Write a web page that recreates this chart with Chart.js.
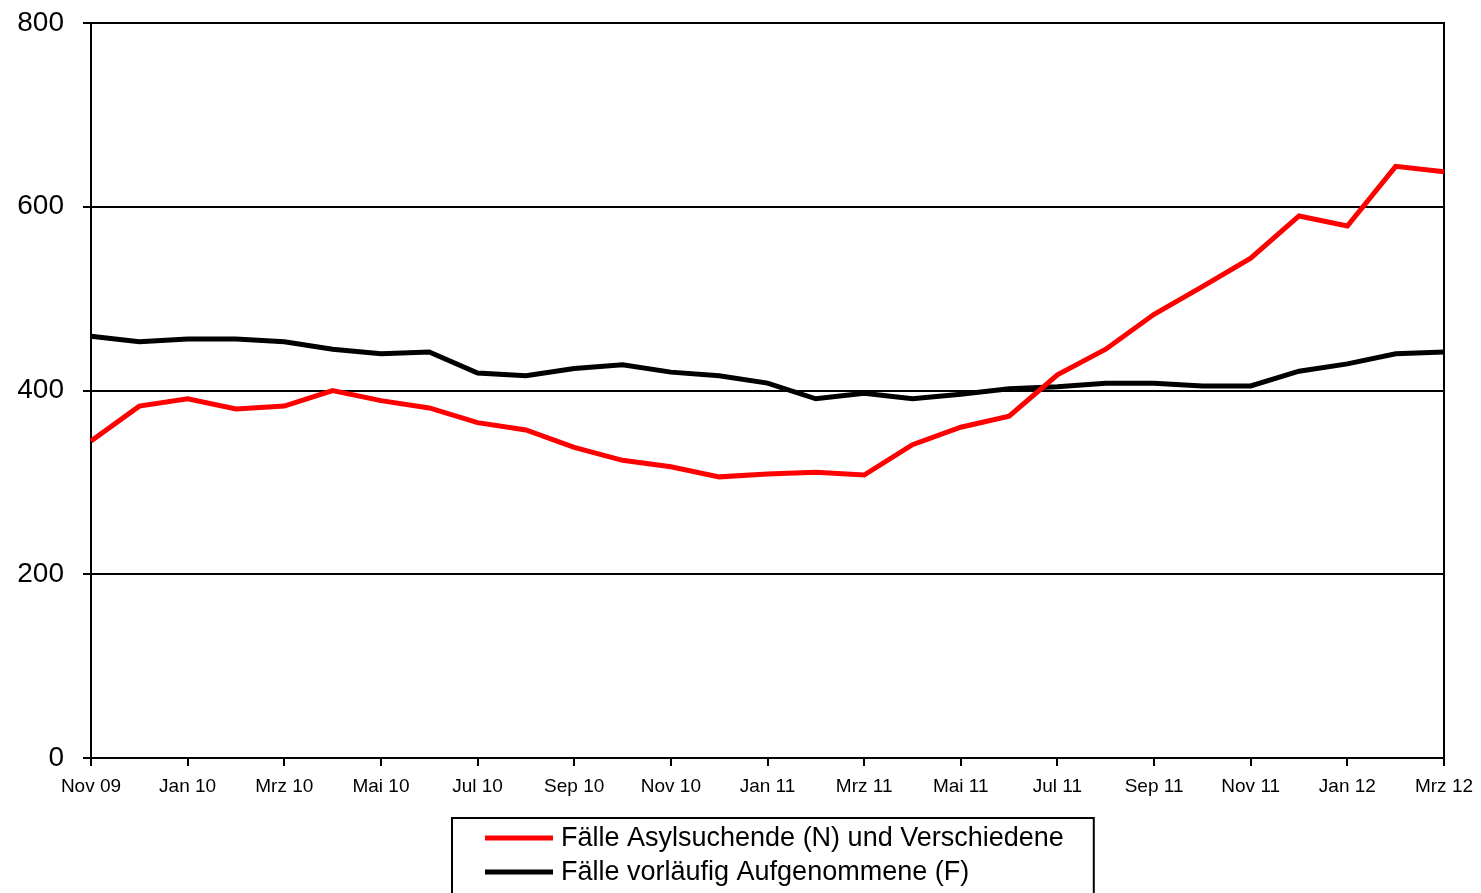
<!DOCTYPE html>
<html>
<head>
<meta charset="utf-8">
<script src="https://cdn.jsdelivr.net/npm/chart.js@4/dist/chart.umd.min.js"></script>
<style>
html, body { margin: 0; padding: 0; background: #fff; }
</style>
</head>
<body>
<canvas id="chart" width="1481" height="893"></canvas>
<script>
const months = [
  "Nov 09", "Dez 09", "Jan 10", "Feb 10", "Mrz 10", "Apr 10", "Mai 10", "Jun 10",
  "Jul 10", "Aug 10", "Sep 10", "Okt 10", "Nov 10", "Dez 10", "Jan 11", "Feb 11",
  "Mrz 11", "Apr 11", "Mai 11", "Jun 11", "Jul 11", "Aug 11", "Sep 11", "Okt 11",
  "Nov 11", "Dez 11", "Jan 12", "Feb 12", "Mrz 12"
];
const asylsuchende = [
  345, 383, 391, 380, 383, 400, 389, 381, 365, 357, 338, 324, 317, 306, 309,
  311, 308, 341, 360, 372, 417, 445, 483, 513, 544, 590, 579, 644, 638
];
const aufgenommene = [
  459, 453, 456, 456, 453, 445, 440, 442, 419, 416, 424, 428, 420, 416, 408,
  391, 397, 391, 396, 402, 404, 408, 408, 405, 405, 421, 429, 440, 442
];
const yTicks = [0, 200, 400, 600, 800];

const FONT = '"Liberation Sans", Arial, sans-serif';

// frame round the plot area (right edge is not drawn by the axes)
const frame = {
  id: 'frame',
  beforeDatasetsDraw(chart) {
    const { ctx, chartArea: a } = chart;
    ctx.save();
    ctx.strokeStyle = '#000';
    ctx.lineWidth = 2;
    ctx.strokeRect(a.left, a.top, a.right - a.left, a.bottom - a.top);
    ctx.restore();
  }
};

// boxed legend below the axis
const boxLegend = {
  id: 'boxLegend',
  afterDraw(chart) {
    const { ctx, chartArea: a } = chart;
    const sets = chart.data.datasets;
    ctx.save();
    ctx.font = '27px ' + FONT;
    const textW = Math.max(...sets.map(d => ctx.measureText(d.label).width));
    const padL = 33, sample = 68, gap = 8, padR = 30;
    const w = padL + sample + gap + textW + padR;
    const x0 = Math.round((a.left + a.right) / 2 + 5 - w / 2);
    const y0 = a.bottom + 60;
    ctx.strokeStyle = '#000';
    ctx.lineWidth = 2;
    ctx.strokeRect(x0, y0, w, 120);
    ctx.textBaseline = 'middle';
    ctx.fillStyle = '#000';
    sets.forEach((d, i) => {
      const cy = y0 + 20 + i * 34;
      ctx.strokeStyle = d.borderColor;
      ctx.lineWidth = 5;
      ctx.beginPath();
      ctx.moveTo(x0 + padL, cy);
      ctx.lineTo(x0 + padL + sample, cy);
      ctx.stroke();
      ctx.fillText(d.label, x0 + padL + sample + gap, cy + 1);
    });
    ctx.restore();
  }
};

const ctxt = document.getElementById('chart').getContext('2d');

const myChart = new Chart(ctxt, {
  type: 'line',
  data: {
    labels: months,
    datasets: [
      {
        label: 'Fälle Asylsuchende (N) und Verschiedene',
        data: asylsuchende,
        borderColor: '#ff0000',
        borderWidth: 5,
        pointRadius: 0,
        tension: 0,
        fill: false
      },
      {
        label: 'Fälle vorläufig Aufgenommene (F)',
        data: aufgenommene,
        borderColor: '#000000',
        borderWidth: 5,
        pointRadius: 0,
        tension: 0,
        fill: false
      }
    ]
  },
  options: {
    responsive: false,
    animation: false,
    layout: { padding: { top: 23, right: 37, left: 0, bottom: 0 } },
    plugins: {
      legend: { display: false },
      tooltip: { enabled: false }
    },
    scales: {
      x: {
        offset: false,
        afterFit: (scale) => {
          scale.height = 135;
          scale.paddingLeft = 0;
          scale.paddingRight = 0;
        },
        grid: {
          drawOnChartArea: false,
          tickLength: 8,
          lineWidth: 2,
          color: (c) => (c.index % 2 === 0 ? '#000' : 'rgba(0,0,0,0)')
        },
        border: { color: '#000', width: 2 },
        ticks: {
          autoSkip: false,
          maxRotation: 0,
          padding: 9,
          color: '#000',
          font: { family: FONT, size: 19 },
          callback: function (v, i) { return i % 2 === 0 ? this.getLabelForValue(v) : ''; }
        }
      },
      y: {
        min: 0,
        max: 800,
        afterFit: (scale) => {
          scale.width = 91;
          scale.paddingTop = 0;
          scale.paddingBottom = 0;
        },
        afterBuildTicks: (scale) => { scale.ticks = yTicks.map(v => ({ value: v })); },
        grid: { color: '#000', lineWidth: 2, tickLength: 8 },
        border: { color: '#000', width: 2 },
        ticks: {
          padding: 19,
          color: '#000',
          font: { family: FONT, size: 28 }
        }
      }
    }
  },
  plugins: [frame, boxLegend]
});
</script>
</body>
</html>
